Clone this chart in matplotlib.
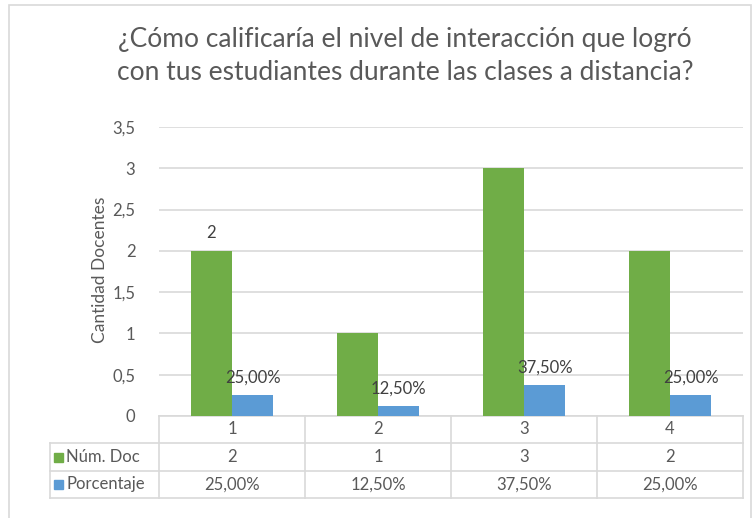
import matplotlib.pyplot as plt
from matplotlib.patches import Rectangle
from matplotlib.transforms import blended_transform_factory

plt.rcParams['font.family'] = ['Lato', 'DejaVu Sans']

categories = ["1", "2", "3", "4"]
num_doc = [2, 1, 3, 2]
porcentaje = [0.25, 0.125, 0.375, 0.25]
series_names = ["Núm. Doc", "Porcentaje"]
yticks = [0, 0.5, 1, 1.5, 2, 2.5, 3, 3.5]

GREEN = "#70AD47"
BLUE = "#5B9BD5"
GRID = "#D9D9D9"
TXT = "#595959"


def fmt_num(v):
    return ("%g" % v).replace(".", ",")


def fmt_pct(v):
    return ("%.2f%%" % (v * 100)).replace(".", ",")


W, H = 752, 518
fig = plt.figure(figsize=(W / 100, H / 100), dpi=100)

# outer chart border (left/top/right)
fig.patches.append(Rectangle((9 / W, -0.1), (751 - 9) / W, 1.1 - 5 / H,
                             transform=fig.transFigure, fill=False,
                             edgecolor=GRID, lw=1.2))

ax = fig.add_axes([159 / W, 1 - 416 / H, (743 - 159) / W, (416 - 127) / H])

x = list(range(1, len(categories) + 1))
bw = 0.284
ax.bar([i - bw / 2 for i in x], num_doc, width=bw, color=GREEN, zorder=3)
ax.bar([i + bw / 2 for i in x], porcentaje, width=bw, color=BLUE, zorder=3)

# data labels (Excel only labelled the first green bar)
ax.annotate(fmt_num(num_doc[0]), (x[0] - bw / 2, num_doc[0]), xytext=(0, 13),
            textcoords="offset points", ha="center", va="center",
            color="#404040", fontsize=12)
for i, v in zip(x, porcentaje):
    ax.annotate(fmt_pct(v), (i + bw / 2, v), xytext=(0, 12.5),
                textcoords="offset points", ha="center", va="center",
                color="#404040", fontsize=12)

ax.set_xlim(0.5, len(categories) + 0.5)
ax.set_ylim(0, 3.5)
ax.set_yticks(yticks)
ax.set_yticklabels([fmt_num(t) for t in yticks], color=TXT, fontsize=12)
ax.tick_params(axis="y", length=0, pad=17)
ax.set_xticks([])
ax.grid(axis="y", color=GRID, lw=1.2, zorder=0)
for s in ["top", "right", "left"]:
    ax.spines[s].set_visible(False)
ax.spines["bottom"].set_color(GRID)
ax.spines["bottom"].set_linewidth(1.2)

# data table below the plot
trans = blended_transform_factory(ax.transData, fig.transFigure)
row_y = [416, 443, 471, 498]
left_px = 50
x_left = 0.5 - (159 - left_px) / (743 - 159) * len(categories)
xr = len(categories) + 0.5
kw = dict(color=GRID, lw=1.2, clip_on=False, transform=trans)
for yy in row_y[1:]:
    ax.plot([x_left, xr], [1 - yy / H] * 2, **kw)
for b in [i + 0.5 for i in range(0, len(categories) + 1)]:
    ax.plot([b, b], [1 - row_y[0] / H, 1 - row_y[-1] / H], **kw)
ax.plot([x_left, x_left], [1 - row_y[1] / H, 1 - row_y[-1] / H], **kw)

yc = [1 - (row_y[j] + row_y[j + 1]) / 2 / H for j in range(3)]
for i, c in zip(x, categories):
    ax.text(i, yc[0], c, transform=trans, ha="center", va="center",
            color=TXT, fontsize=12)
for row, vals, col, f in [(1, num_doc, GREEN, fmt_num),
                          (2, porcentaje, BLUE, fmt_pct)]:
    for i, v in zip(x, vals):
        ax.text(i, yc[row], f(v), transform=trans, ha="center", va="center",
                color=TXT, fontsize=12)
    fig.patches.append(Rectangle((54 / W, yc[row] - 4.5 / H), 9 / W, 9 / H,
                                 transform=fig.transFigure, color=col))
    fig.text(66 / W, yc[row], series_names[row - 1], ha="left", va="center",
             color=TXT, fontsize=12)

fig.text(100 / W, 1 - 270 / H, "Cantidad Docentes", rotation=90,
         ha="center", va="center", color=TXT, fontsize=12.5)

fig.text(405 / W, 1 - 56 / H,
         "¿Cómo calificaría el nivel de interacción que logró\n"
         "con tus estudiantes durante las clases a distancia?",
         ha="center", va="center", color=TXT, fontsize=19, linespacing=1.45)

fig.savefig("out.png", dpi=100)
